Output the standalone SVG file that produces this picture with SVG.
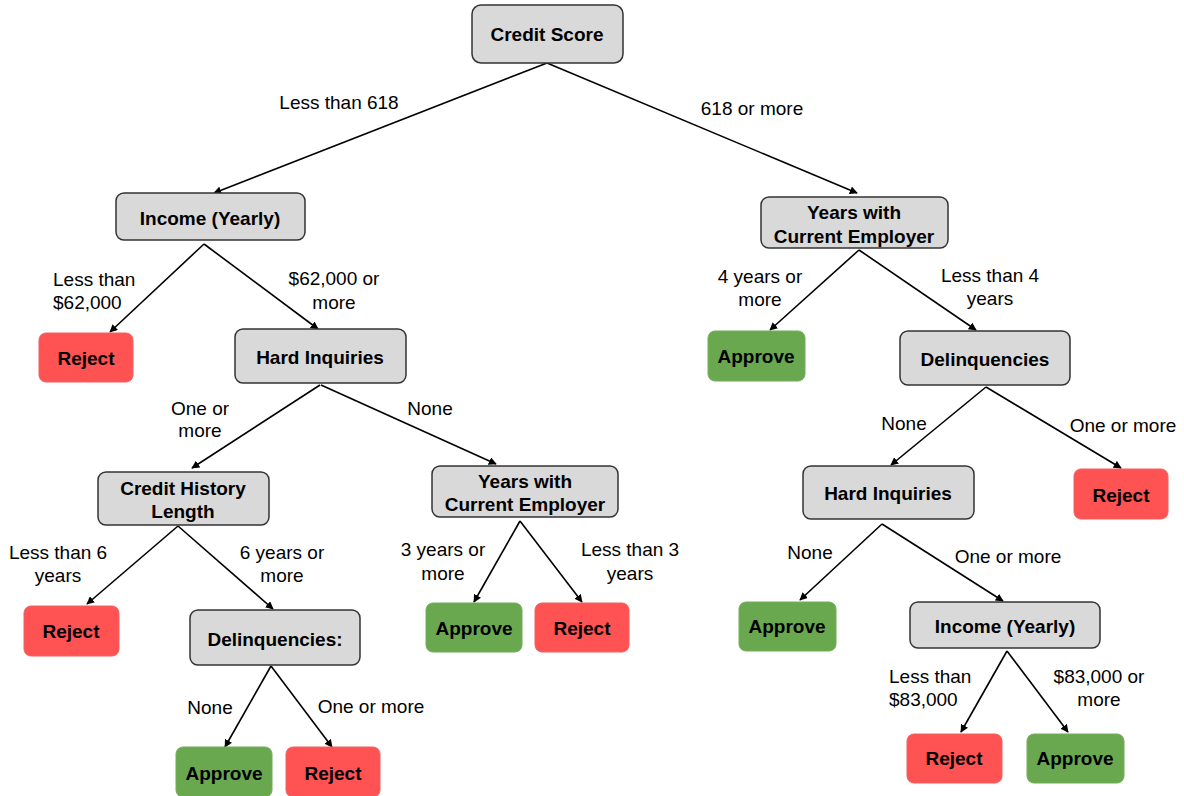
<svg xmlns="http://www.w3.org/2000/svg" width="1184" height="796" viewBox="0 0 1184 796">
<defs>
<marker id="arr" viewBox="0 0 10 10" refX="9" refY="5" markerWidth="5" markerHeight="5" orient="auto" markerUnits="strokeWidth">
<path d="M0,0 L10,5 L0,10 z" fill="#000"/>
</marker>
<style>
.q rect{fill:#d9d9d9;stroke:#333;stroke-width:1.5}
.r rect{fill:#ff5252;stroke:#f06060;stroke-width:1}
.g rect{fill:#6aa84f;stroke:#72ad58;stroke-width:1}
.n text{font-family:"Liberation Sans",Arial,sans-serif;font-weight:bold;font-size:19px;text-anchor:middle;fill:#000}
#edges line{stroke:#000;stroke-width:1.6;marker-end:url(#arr)}
#labels text{font-family:"Liberation Sans",Arial,sans-serif;font-size:19px;fill:#000;text-anchor:middle}
#labels text.l{text-anchor:start}
</style>
</defs>
<rect width="1184" height="796" fill="#fff"/>
<g id="edges">
<line x1="547" y1="63" x2="214" y2="193"/>
<line x1="547" y1="63" x2="857" y2="193"/>
<line x1="204" y1="244" x2="110" y2="332"/>
<line x1="204" y1="244" x2="318" y2="329"/>
<line x1="320" y1="385" x2="192" y2="468"/>
<line x1="321" y1="385" x2="496" y2="464"/>
<line x1="178" y1="526" x2="87" y2="604"/>
<line x1="178" y1="526" x2="273" y2="609"/>
<line x1="271" y1="666" x2="225" y2="747"/>
<line x1="271" y1="666" x2="332" y2="747"/>
<line x1="520" y1="521" x2="474" y2="602"/>
<line x1="520" y1="521" x2="582" y2="602"/>
<line x1="859" y1="250" x2="770" y2="330"/>
<line x1="859" y1="250" x2="976" y2="330"/>
<line x1="986" y1="387" x2="891" y2="465"/>
<line x1="986" y1="387" x2="1121" y2="468"/>
<line x1="882" y1="524" x2="800" y2="600"/>
<line x1="882" y1="524" x2="1003" y2="601"/>
<line x1="1007" y1="651" x2="961" y2="732"/>
<line x1="1007" y1="651" x2="1068" y2="732"/>
</g>
<g id="labels">
<text x="339" y="109">Less than 618</text>
<text x="752" y="115">618 or more</text>
<text class="l" x="53" y="286">Less than</text>
<text class="l" x="53" y="309">$62,000</text>
<text x="334" y="285">$62,000 or</text>
<text x="334" y="309">more</text>
<text x="760" y="283">4 years or</text>
<text x="760" y="306">more</text>
<text x="990" y="282">Less than 4</text>
<text x="990" y="305">years</text>
<text x="200" y="415">One or</text>
<text x="200" y="437">more</text>
<text x="430" y="415">None</text>
<text x="904" y="430">None</text>
<text x="1123" y="432">One or more</text>
<text x="58" y="559">Less than 6</text>
<text x="58" y="582">years</text>
<text x="282" y="559">6 years or</text>
<text x="282" y="582">more</text>
<text x="443" y="556">3 years or</text>
<text x="443" y="580">more</text>
<text x="630" y="556">Less than 3</text>
<text x="630" y="580">years</text>
<text x="210" y="714">None</text>
<text x="371" y="713">One or more</text>
<text x="810" y="559">None</text>
<text x="1008" y="563">One or more</text>
<text class="l" x="889" y="683">Less than</text>
<text class="l" x="889" y="706">$83,000</text>
<text x="1099" y="683">$83,000 or</text>
<text x="1099" y="706">more</text>
</g>
<g id="credit-score" class="n q"><rect x="472" y="5" width="151" height="58" rx="9"/><text x="547" y="41">Credit Score</text></g>
<g id="income-left" class="n q"><rect x="116" y="193" width="189" height="47" rx="8"/><text x="210" y="225">Income (Yearly)</text></g>
<g id="reject-1" class="n r"><rect x="39" y="333" width="94" height="49" rx="7"/><text x="86" y="365">Reject</text></g>
<g id="hard-inq-left" class="n q"><rect x="235" y="329" width="171" height="54" rx="8"/><text x="320" y="364">Hard Inquiries</text></g>
<g id="years-right" class="n q"><rect x="761" y="197" width="187" height="51" rx="8"/><text x="854" y="219">Years with</text><text x="854" y="243">Current Employer</text></g>
<g id="approve-1" class="n g"><rect x="708" y="331" width="97" height="50" rx="7"/><text x="756" y="363">Approve</text></g>
<g id="delinq-right" class="n q"><rect x="900" y="331" width="170" height="54" rx="8"/><text x="985" y="366">Delinquencies</text></g>
<g id="hard-inq-right" class="n q"><rect x="803" y="466" width="171" height="53" rx="8"/><text x="888" y="500">Hard Inquiries</text></g>
<g id="reject-2" class="n r"><rect x="1074" y="469" width="94" height="50" rx="7"/><text x="1121" y="502">Reject</text></g>
<g id="credit-history" class="n q"><rect x="98" y="472" width="171" height="53" rx="8"/><text x="183" y="495">Credit History</text><text x="183" y="518">Length</text></g>
<g id="years-mid" class="n q"><rect x="432" y="466" width="186" height="51" rx="8"/><text x="525" y="488">Years with</text><text x="525" y="511">Current Employer</text></g>
<g id="reject-3" class="n r"><rect x="24" y="606" width="95" height="50" rx="7"/><text x="71" y="638">Reject</text></g>
<g id="delinq-left" class="n q"><rect x="190" y="610" width="170" height="55" rx="8"/><text x="275" y="646">Delinquencies:</text></g>
<g id="approve-2" class="n g"><rect x="426" y="603" width="96" height="49" rx="7"/><text x="474" y="635">Approve</text></g>
<g id="reject-4" class="n r"><rect x="535" y="603" width="94" height="49" rx="7"/><text x="582" y="635">Reject</text></g>
<g id="approve-3" class="n g"><rect x="176" y="747" width="96" height="50" rx="7"/><text x="224" y="780">Approve</text></g>
<g id="reject-5" class="n r"><rect x="286" y="747" width="94" height="50" rx="7"/><text x="333" y="780">Reject</text></g>
<g id="approve-4" class="n g"><rect x="739" y="602" width="97" height="49" rx="7"/><text x="787" y="633">Approve</text></g>
<g id="income-right" class="n q"><rect x="910" y="602" width="190" height="46" rx="8"/><text x="1005" y="633">Income (Yearly)</text></g>
<g id="reject-6" class="n r"><rect x="907" y="734" width="95" height="49" rx="7"/><text x="954" y="765">Reject</text></g>
<g id="approve-5" class="n g"><rect x="1027" y="734" width="97" height="49" rx="7"/><text x="1075" y="765">Approve</text></g>
</svg>
